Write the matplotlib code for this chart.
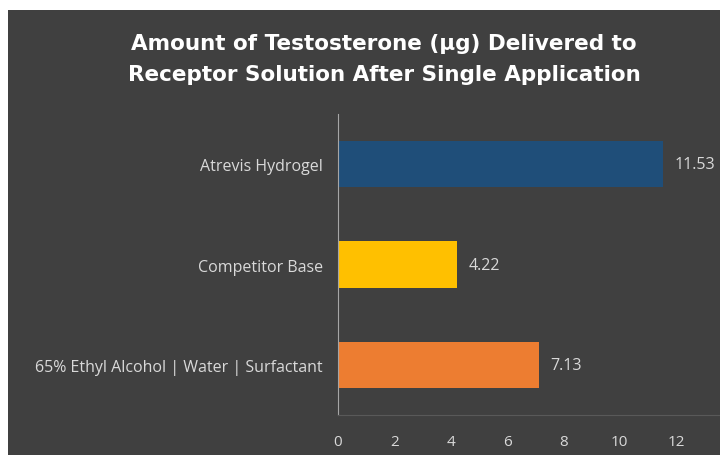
import matplotlib.pyplot as plt
from matplotlib.patches import Rectangle

categories = ["65% Ethyl Alcohol | Water | Surfactant", "Competitor Base", "Atrevis Hydrogel"]
values = [7.13, 4.22, 11.53]
colors = ["#ED7D31", "#FFC000", "#1F4E79"]
xticks = [0, 2, 4, 6, 8, 10, 12]

W, H = 720, 456
bg = "#404040"
txt = "#D9D9D9"

plt.rcParams['font.family'] = ['Open Sans', 'DejaVu Sans']

fig = plt.figure(figsize=(W / 100, H / 100), dpi=100, facecolor="white")
fig.patches.append(Rectangle((8 / W, 0), 1, (H - 11) / H, transform=fig.transFigure,
                             facecolor=bg, edgecolor="none", zorder=-5))

ax = fig.add_axes([338 / W, (H - 416) / H, (W - 338) / W, (416 - 115) / H])
ax.patch.set_visible(False)

ypos = range(len(categories))
ax.barh(ypos, values, height=0.46, color=colors, zorder=2)
for y, v in zip(ypos, values):
    ax.text(v + 0.42, y, f"{v:.2f}", va="center", ha="left", color=txt, fontsize=11.5)

ax.set_xlim(0, (W - 338) / 28.17)
ax.set_ylim(-0.5, 2.5)
ax.set_yticks(list(ypos))
ax.set_yticklabels(categories, color=txt, fontsize=11.5)
ax.set_xticks(xticks)
ax.set_xticklabels([str(t) for t in xticks], color=txt, fontsize=11)
ax.tick_params(length=0, pad=11, axis="y")
ax.tick_params(length=0, pad=14, axis="x")

for s in ["top", "right"]:
    ax.spines[s].set_visible(False)
ax.spines["left"].set_color("#A6A6A6")
ax.spines["bottom"].set_color("#595959")

fig.text(384 / W, 1 - 44 / H, "Amount of Testosterone (µg) Delivered to",
         ha="center", va="center", color="white", fontsize=15.5, fontweight="bold",
         family="DejaVu Sans")
fig.text(384 / W, 1 - 75 / H, "Receptor Solution After Single Application",
         ha="center", va="center", color="white", fontsize=15.5, fontweight="bold",
         family="DejaVu Sans")

fig.savefig("out.png", dpi=100, facecolor=fig.get_facecolor())
